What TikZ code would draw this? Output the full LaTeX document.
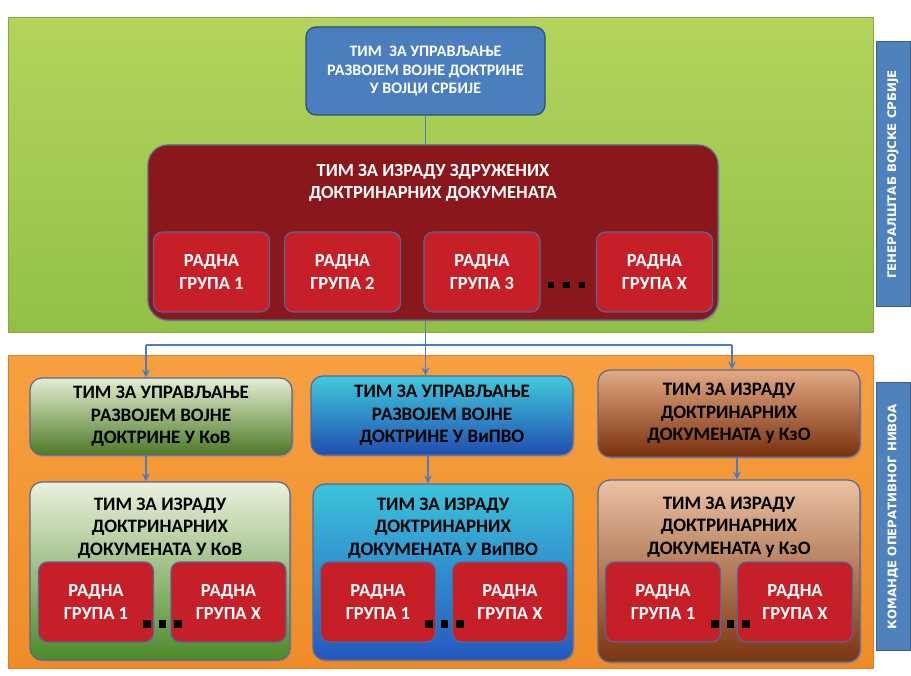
\documentclass[tikz,border=0pt]{standalone}
\usepackage{fontspec}
\setmainfont{Carlito}
\newfontfamily\sidefont{DejaVu Sans}
\usetikzlibrary{arrows.meta,shadows}
\definecolor{gpanelT}{HTML}{B3D45C}
\definecolor{gpanelB}{HTML}{92C045}
\definecolor{gpanelD}{HTML}{86A93C}
\definecolor{opanelT}{HTML}{F7A040}
\definecolor{opanelB}{HTML}{EF8C28}
\definecolor{opanelD}{HTML}{E07E22}
\definecolor{sideblue}{HTML}{4F81BD}
\definecolor{sideD}{HTML}{385D8A}
\definecolor{topblue}{HTML}{4A7EBE}
\definecolor{topD}{HTML}{2C4D75}
\definecolor{bigred}{HTML}{8A171C}
\definecolor{edgeblu}{HTML}{55679A}
\definecolor{smallred}{HTML}{C61F28}
\definecolor{conn}{HTML}{4A7CC0}
\definecolor{g1T}{HTML}{E4EDD2}\definecolor{g1B}{HTML}{4C7A26}
\definecolor{b1T}{HTML}{42CADC}\definecolor{b1B}{HTML}{1F4DB0}
\definecolor{r1T}{HTML}{E2AA84}\definecolor{r1B}{HTML}{7A2F0C}
\definecolor{g2T}{HTML}{EBF1DE}\definecolor{g2B}{HTML}{4C8A28}
\definecolor{b2T}{HTML}{3CC4DA}\definecolor{b2B}{HTML}{2458C0}
\definecolor{r2T}{HTML}{EAC2A2}\definecolor{r2B}{HTML}{7A3410}
\begin{document}
\begin{tikzpicture}[x=1pt,y=-1pt,
  panelbox/.style={draw=#1, line width=1pt},
  sidelab/.style={draw=sideD, fill=sideblue, line width=1pt, text=white,
    font=\sidefont\bfseries\fontsize{11.8}{14}\selectfont, rotate=90,
    inner sep=0pt},
  topbox/.style={draw=topD, fill=topblue, line width=1.2pt, rounded corners=10pt,
    text=white, align=center, font=\bfseries\fontsize{16}{18.8}\selectfont},
  bigbox/.style={draw=edgeblu, fill=bigred, line width=1.2pt, rounded corners=20pt,
    drop shadow={opacity=0.35, shadow xshift=1.5pt, shadow yshift=-2pt}},
  wgbox/.style={draw=edgeblu, fill=smallred, line width=1.2pt, rounded corners=9pt,
    text=white, align=center, font=\bfseries\fontsize{18.5}{22.5}\selectfont},
  lvlbox/.style={draw=edgeblu, line width=1.2pt, rounded corners=12pt,
    align=center, text=black, font=\bfseries\fontsize{19}{22.3}\selectfont,
    drop shadow={opacity=0.35, shadow xshift=1.5pt, shadow yshift=-2pt}},
  ttl/.style={align=center, font=\bfseries\fontsize{19}{22.5}\selectfont},
  dotsq/.style={fill=black, minimum size=6.5pt, inner sep=0pt},
  connline/.style={draw=conn, line width=1.4pt},
  connarr/.style={draw=conn, line width=1.4pt, -{Stealth[length=8pt,width=8pt,inset=3pt]}}
]
\useasboundingbox (0,0) rectangle (911,676);
\fill[white] (0,0) rectangle (911,676);

% panels
\node[panelbox=gpanelD, top color=gpanelT, bottom color=gpanelB,
  minimum width=865, minimum height=315, inner sep=0pt] (gpanel) at (440.5,175.5) {};
\node[panelbox=opanelD, top color=opanelT, bottom color=opanelB,
  minimum width=865, minimum height=312, inner sep=0pt] (opanel) at (440.5,512) {};

% side labels
\node[sidelab, minimum width=265, minimum height=34] (sideA) at (893,174.5) {ГЕНЕРАЛШТАБ ВОЈСКЕ СРБИЈЕ};
\node[sidelab, minimum width=267, minimum height=34] (sideB) at (893,516.5) {КОМАНДЕ ОПЕРАТИВНОГ НИВОА};

% top level
\node[topbox, minimum width=239, minimum height=88] (top) at (425.5,71)
  {ТИМ\hspace{0.25em} ЗА УПРАВЉАЊЕ\\РАЗВОЈЕМ ВОЈНЕ ДОКТРИНЕ\\У ВОЈЦИ СРБИЈЕ};
\node[bigbox, minimum width=570, minimum height=175] (big) at (433,232.5) {};
\node[ttl, text=white, font=\bfseries\fontsize{18.5}{22.5}\selectfont] (bigttl) at (433,183) {ТИМ ЗА ИЗРАДУ ЗДРУЖЕНИХ\\ДОКТРИНАРНИХ ДОКУМЕНАТА};
\node[wgbox, minimum width=116, minimum height=80] (w1) at (211.5,272) {РАДНА\\ГРУПА 1};
\node[wgbox, minimum width=116, minimum height=80] (w2) at (342.5,272) {РАДНА\\ГРУПА 2};
\node[wgbox, minimum width=116, minimum height=80] (w3) at (482,272) {РАДНА\\ГРУПА 3};
\node[wgbox, minimum width=116, minimum height=80] (w4) at (654.5,272) {РАДНА\\ГРУПА Х};
\node[dotsq] (d1) at (551,285) {};
\node[dotsq] (d2) at (566.5,285) {};
\node[dotsq] (d3) at (582,285) {};

% operational level, row 1
\node[lvlbox, top color=g1T, bottom color=g1B, minimum width=262, minimum height=77] (k1) at (161,416.5)
  {ТИМ ЗА УПРАВЉАЊЕ\\РАЗВОЈЕМ ВОЈНЕ\\ДОКТРИНЕ У КоВ};
\node[lvlbox, top color=b1T, bottom color=b1B, minimum width=262, minimum height=79] (k2) at (442,415.5)
  {ТИМ ЗА УПРАВЉАЊЕ\\РАЗВОЈЕМ ВОЈНЕ\\ДОКТРИНЕ У ВиПВО};
\node[lvlbox, top color=r1T, bottom color=r1B, minimum width=262, minimum height=87] (k3) at (729,413.5)
  {ТИМ ЗА ИЗРАДУ\\ДОКТРИНАРНИХ\\ДОКУМЕНАТА у КзО};

% row 2 containers
\node[lvlbox, top color=g2T, bottom color=g2B, minimum width=260, minimum height=178] (m1) at (160,571) {};
\node[lvlbox, top color=b2T, bottom color=b2B, minimum width=260, minimum height=176] (m2) at (443,572) {};
\node[lvlbox, top color=r2T, bottom color=r2B, minimum width=262, minimum height=182] (m3) at (729,571) {};
\node[ttl] (m1t) at (160,528) {ТИМ ЗА ИЗРАДУ\\ДОКТРИНАРНИХ\\ДОКУМЕНАТА У КоВ};
\node[ttl] (m2t) at (443,528) {ТИМ ЗА ИЗРАДУ\\ДОКТРИНАРНИХ\\ДОКУМЕНАТА У ВиПВО};
\node[ttl] (m3t) at (729,527) {ТИМ ЗА ИЗРАДУ\\ДОКТРИНАРНИХ\\ДОКУМЕНАТА у КзО};

\node[wgbox, minimum width=115, minimum height=80] (a1) at (96,602) {РАДНА\\ГРУПА 1};
\node[wgbox, minimum width=115, minimum height=80] (a2) at (228.5,602) {РАДНА\\ГРУПА Х};
\node[wgbox, minimum width=115, minimum height=80] (b1) at (378,602) {РАДНА\\ГРУПА 1};
\node[wgbox, minimum width=115, minimum height=80] (b2) at (510,602) {РАДНА\\ГРУПА Х};
\node[wgbox, minimum width=115, minimum height=80] (c1) at (663,602) {РАДНА\\ГРУПА 1};
\node[wgbox, minimum width=115, minimum height=80] (c2) at (795,602) {РАДНА\\ГРУПА Х};

\foreach \cx/\nm in {147/a,429/b,715/c}{
  \node[dotsq, minimum size=7.5pt] (\nm d1) at (\cx,624) {};
  \node[dotsq, minimum size=7.5pt] (\nm d2) at (\cx+15.5,624) {};
  \node[dotsq, minimum size=7.5pt] (\nm d3) at (\cx+31,624) {};
}

% connectors
\coordinate (hub) at (425.5,345);
\coordinate (hl) at (146,345);
\coordinate (hr) at (732,345);
\draw[connline] (top.south) -- (top.south |- big.north);
\draw[connline] (top.south |- big.south) -- (hub);
\draw[connline] (hl) -- (hr);
\draw[connarr] (hl) -- (hl |- k1.north);
\draw[connarr] (hub) -- (hub |- k2.north);
\draw[connarr] (hr) -- (hr |- k3.north);
\coordinate (v1) at (146,455);
\coordinate (v2) at (428,455);
\coordinate (v3) at (737,457);
\draw[connarr] (v1) -- (v1 |- m1.north);
\draw[connarr] (v2) -- (v2 |- m2.north);
\draw[connarr] (v3) -- (v3 |- m3.north);
\end{tikzpicture}
\end{document}
